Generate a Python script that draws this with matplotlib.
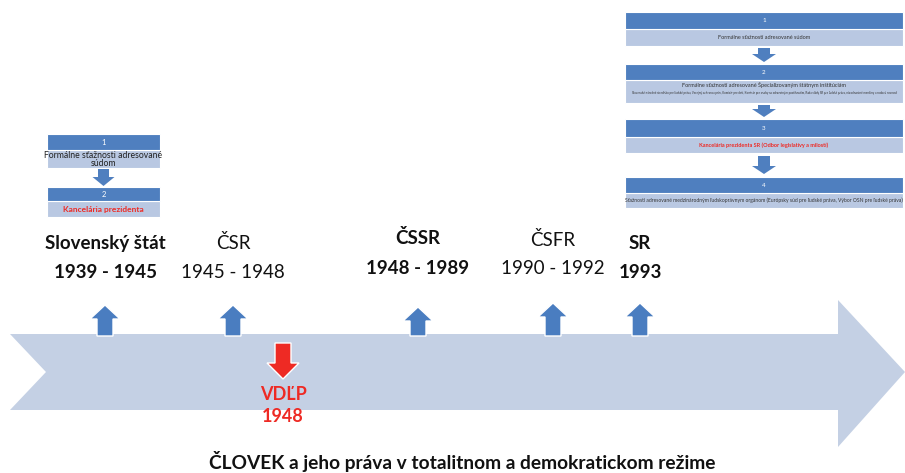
import matplotlib
matplotlib.use("Agg")
import matplotlib.pyplot as plt
from matplotlib.patches import Polygon, Rectangle

plt.rcParams['font.family'] = ['Lato', 'DejaVu Sans']

# ---- data ----
periods = ["Slovenský štát", "ČSR", "ČSSR", "ČSFR", "SR"]
years = ["1939 - 1945", "1945 - 1948", "1948 - 1989", "1990 - 1992", "1993"]
bold_flags = [True, False, True, False, True]
period_x = [105, 233, 418, 553, 640]
name_y = [243, 243, 238, 240, 243]
year_y = [272, 272, 268, 268, 272]
arrow_top = [305, 305, 307, 303, 303]

event_label = ["VDĽP", "1948"]
event_x = 283

left_steps = ["1", "2"]
left_texts = ["Formálne sťažnosti adresované\nsúdom", "Kancelária prezidenta"]
left_red = [False, True]

right_steps = ["1", "2", "3", "4"]
right_texts = [
    "Formálne sťažnosti adresované súdom",
    "Formálne sťažnosti adresované Špecializovaným štátnym inštitúciám",
    "Kancelária prezidenta SR (Odbor legislatívy a milostí)",
    "Sťažnosti adresované medzinárodným ľudskoprávnym orgánom (Európsky súd pre ľudské práva, Výbor OSN pre ľudské práva)",
]
right_sub = [None,
             "Slovenské národné stredisko pre ľudské práva, Verejný ochranca práv, Komisár pre deti, Komisár pre osoby so zdravotným postihnutím, Rada vlády SR pre ľudské práva, národnostné menšiny a rodovú rovnosť",
             None, None]
right_red = [False, False, True, False]

title = "ČLOVEK a jeho práva v totalitnom a demokratickom režime"

# ---- colors ----
HEAD = "#4F7FBF"
LIGHT = "#B9C8E2"
BIG = "#C4D0E4"
UP = "#4A7DC0"
RED = "#EE2A24"

fig = plt.figure(figsize=(9.05, 4.73), dpi=100)
ax = fig.add_axes([0, 0, 1, 1])
ax.set_xlim(0, 905)
ax.set_ylim(473, 0)
ax.axis('off')

# big timeline arrow
big = [(10, 334), (838, 334), (838, 300), (905, 372), (838, 447), (838, 410),
       (10, 410), (46, 372)]
ax.add_patch(Polygon(big, closed=True, fc=BIG, ec='none'))


def up_arrow(cx, top, bottom, hw=15, sw=8, hh=14, color=UP):
    pts = [(cx, top), (cx + hw, top + hh), (cx + sw, top + hh), (cx + sw, bottom),
           (cx - sw, bottom), (cx - sw, top + hh), (cx - hw, top + hh)]
    ax.add_patch(Polygon(pts, closed=True, fc=color, ec='white', lw=1))


def down_arrow(cx, top, bottom, hw=16, sw=8, hh=16, color=RED):
    pts = [(cx, bottom), (cx + hw, bottom - hh), (cx + sw, bottom - hh), (cx + sw, top),
           (cx - sw, top), (cx - sw, bottom - hh), (cx - hw, bottom - hh)]
    ax.add_patch(Polygon(pts, closed=True, fc=color, ec='white', lw=1))


for name, yr, b, x, ny, yy, at in zip(periods, years, bold_flags, period_x, name_y, year_y, arrow_top):
    w = 'bold' if b else 'normal'
    ax.text(x, ny, name, ha='center', va='center', fontsize=13.5, fontweight=w, color='#111111')
    ax.text(x, yy, yr, ha='center', va='center', fontsize=13.5, fontweight=w, color='#111111')
    up_arrow(x, at, 336)

down_arrow(event_x, 343, 379)
ax.text(event_x, 394, event_label[0], ha='center', va='center', fontsize=13, fontweight='bold', color=RED)
ax.text(event_x, 416, event_label[1], ha='center', va='center', fontsize=13, fontweight='bold', color=RED)

ax.text(462, 461, title, ha='center', va='center', fontsize=13.8, fontweight='bold', color='#111111')


def small_arrow(cx, top, bottom, hw, sw, hh):
    pts = [(cx, bottom), (cx + hw, bottom - hh), (cx + sw, bottom - hh), (cx + sw, top),
           (cx - sw, top), (cx - sw, bottom - hh), (cx - hw, bottom - hh)]
    ax.add_patch(Polygon(pts, closed=True, fc=HEAD, ec='none'))


# left process box
lx0, lx1 = 47, 160
l_rows = [(134, 150, 150, 168), (187, 201, 201, 217)]
for (h0, h1, r0, r1), s, t, red in zip(l_rows, left_steps, left_texts, left_red):
    ax.add_patch(Rectangle((lx0, r0), lx1 - lx0, r1 - r0, fc=LIGHT, ec='white', lw=0.8))
    ax.add_patch(Rectangle((lx0, h0), lx1 - lx0, h1 - h0, fc=HEAD, ec='white', lw=0.8))
    ax.text((lx0 + lx1) / 2, (h0 + h1) / 2, s, ha='center', va='center', fontsize=5.5, color='white')
    ax.text((lx0 + lx1) / 2, (r0 + r1) / 2 + 0.5, t, ha='center', va='center',
            fontsize=6.2 if not red else 6.0, fontweight='bold' if red else 'normal',
            color=RED if red else '#222222', linespacing=0.95)
small_arrow((lx0 + lx1) / 2, 169, 186, 11, 5.5, 9)

# right process box
rx0, rx1 = 625, 903
r_rows = [(12, 29, 29, 46), (64, 80, 80, 103), (119, 137, 137, 153), (177, 193, 193, 208)]
for i, ((h0, h1, r0, r1), s, t, sub, red) in enumerate(zip(r_rows, right_steps, right_texts, right_sub, right_red)):
    ax.add_patch(Rectangle((rx0, r0), rx1 - rx0, r1 - r0, fc=LIGHT, ec='white', lw=0.8))
    ax.add_patch(Rectangle((rx0, h0), rx1 - rx0, h1 - h0, fc=HEAD, ec='white', lw=0.8))
    ax.text((rx0 + rx1) / 2, (h0 + h1) / 2, s, ha='center', va='center', fontsize=4.5, color='white')
    ty = (r0 + r1) / 2 if sub is None else r0 + 5
    fs = 3.6 if i == 3 else 4.0
    ax.text((rx0 + rx1) / 2, ty, t, ha='center', va='center',
            fontsize=fs, fontweight='bold' if red else 'normal',
            color=RED if red else '#333333')
    if sub is not None:
        ax.text((rx0 + rx1) / 2, r0 + 13, sub, ha='center', va='center', fontsize=2.1, color='#333333')
for (a0, a1) in [(48, 62), (105, 117), (156, 174)]:
    small_arrow((rx0 + rx1) / 2, a0, a1, 12, 6, 8)

fig.savefig("out.png", dpi=100)
